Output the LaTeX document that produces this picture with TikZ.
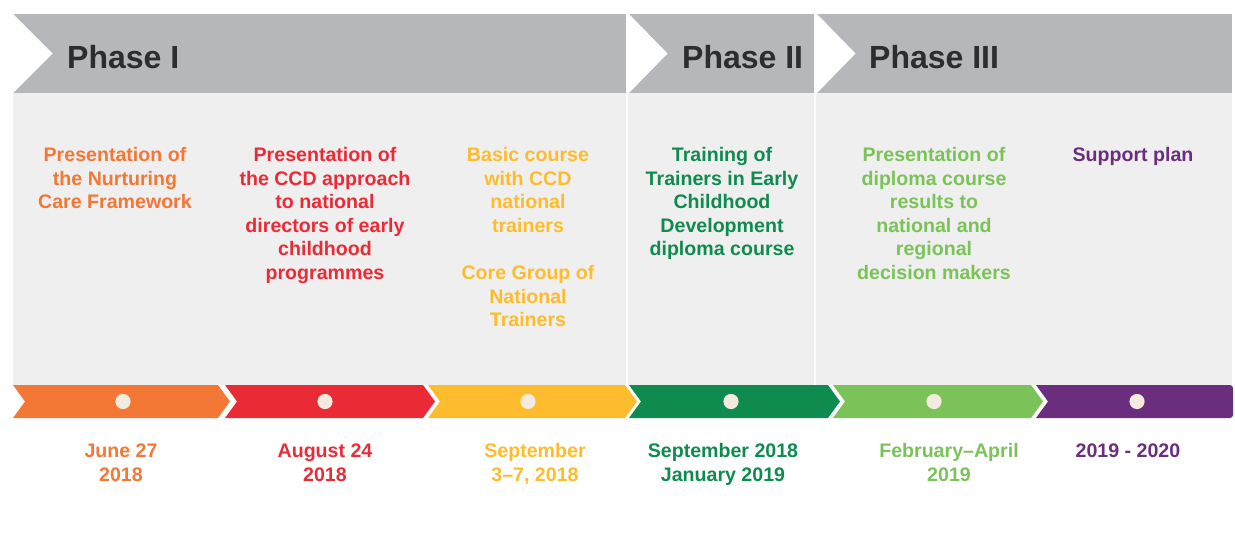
\documentclass[tikz,border=0pt]{standalone}
\usepackage{fontspec}
\setmainfont{Liberation Sans}

\definecolor{headgray}{HTML}{B6B7BB}
\definecolor{bodygray}{HTML}{EFEFEF}
\definecolor{phasetext}{HTML}{2B2D30}
\definecolor{corange}{HTML}{F37735}
\definecolor{cred}{HTML}{EA2B36}
\definecolor{cyellow}{HTML}{FDBC2D}
\definecolor{cgreen}{HTML}{0F8B4F}
\definecolor{clight}{HTML}{7BC259}
\definecolor{cpurple}{HTML}{6B2D7E}
\definecolor{dotfill}{HTML}{F3EBDF}

% stacked centred lines whose baseline is the first line
\newcommand{\stack}[1]{\begin{tabular}[t]{@{}c@{}}#1\end{tabular}}

\tikzset{
  phase/.style={anchor=base west, inner sep=0pt, text=phasetext,
    font=\fontsize{32}{36}\selectfont\bfseries},
  event/.style={anchor=base, inner sep=0pt,
    font=\fontsize{19.6}{23.6}\selectfont\bfseries},
  dot/.style={fill=dotfill},
}

\begin{document}
\begin{tikzpicture}[x=1pt,y=-1pt]
\useasboundingbox (0,0) rectangle (1235,559);

% panel body and header band
\fill[bodygray] (13,93) rectangle (1232,385);
\fill[headgray] (13,14) rectangle (1232,93);

% chevron notch of the first phase
\fill[white] (12,13) -- (52.7,53.5) -- (12,94) -- cycle;
% dividers between phases, each with its own notch
\foreach \x in {627,815}{
  \fill[white] (\x-1.2,13) rectangle (\x+1.2,385);
  \fill[white] (\x+1,13) -- (\x+40.5,53.5) -- (\x+1,94) -- cycle;
}

% phase titles
\node[phase] (p1) at (67,68.5) {Phase I};
\node[phase] (p2) at (682,68.5) {Phase II};
\node[phase] (p3) at (869,68.5) {Phase III};

% coloured timeline arrows
\foreach \s/\e/\c in {13/218/corange, 225/423/cred, 428/625/cyellow,
                      629/828/cgreen, 833/1031/clight}{
  \fill[\c] (\s,385) -- (\e,385) -- (\e+12,401.5) -- (\e,418)
            -- (\s,418) -- (\s+12,401.5) -- cycle;
}
\fill[cpurple] (1048,401.5) -- (1036,385) [rounded corners=3pt] -- (1233,385)
  -- (1233,418) [sharp corners] -- (1036,418) -- cycle;

% milestone dots
\foreach \x [count=\i] in {123,325,528,731,934,1137}{
  \fill[dot] (\x,401.5) circle (7.6pt) coordinate (m\i);
}

% events
\node[event, text=corange] (e1) at (115,161.5)
  {\stack{Presentation of\\the Nurturing\\Care Framework}};
\node[event, text=cred] (e2) at (325,161.5)
  {\stack{Presentation of\\the CCD approach\\to national\\directors of early\\childhood\\programmes}};
\node[event, text=cyellow] (e3) at (528,161.5)
  {\stack{Basic course\\with CCD\\national\\trainers\\ \\Core Group of\\National\\Trainers}};
\node[event, text=cgreen] (e4) at (722,161.5)
  {\stack{Training of\\Trainers in Early\\Childhood\\Development\\diploma course}};
\node[event, text=clight] (e5) at (934,161.5)
  {\stack{Presentation of\\diploma course\\results to\\national and\\regional\\decision makers}};
\node[event, text=cpurple] (e6) at (1133,161.5)
  {\stack{Support plan}};

% dates
\node[event, text=corange] (d1) at (121,457.5) {\stack{June 27\\2018}};
\node[event, text=cred] (d2) at (325,457.5) {\stack{August 24\\2018}};
\node[event, text=cyellow] (d3) at (535,457.5) {\stack{September\\3–7, 2018}};
\node[event, text=cgreen] (d4) at (723,457.5) {\stack{September 2018\\January 2019}};
\node[event, text=clight] (d5) at (949,457.5) {\stack{February–April\\2019}};
\node[event, text=cpurple] (d6) at (1128,457.5) {\stack{2019 - 2020}};
\end{tikzpicture}
\end{document}
